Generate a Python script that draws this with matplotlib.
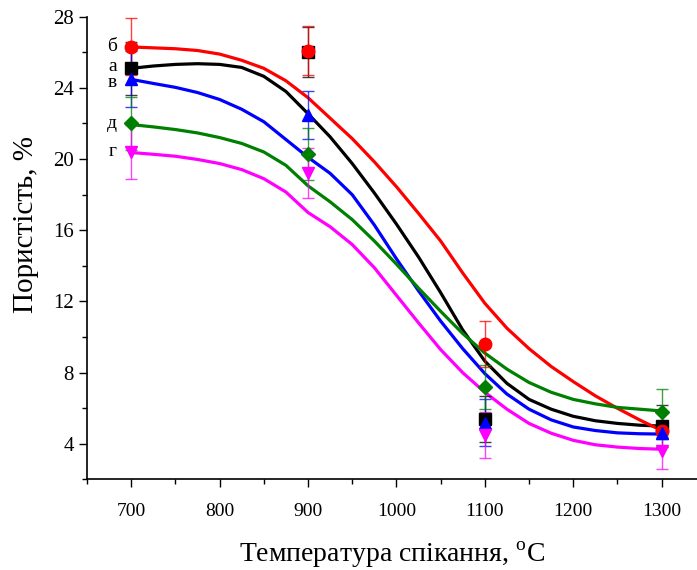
import matplotlib
matplotlib.use('Agg')
import matplotlib.pyplot as plt
from matplotlib.ticker import MultipleLocator

plt.rcParams['font.family'] = ['Liberation Serif', 'DejaVu Serif']
plt.rcParams['mathtext.fontset'] = 'custom'
plt.rcParams['mathtext.rm'] = 'Liberation Serif'

# measured points
temps = [700, 900, 1100, 1300]
por_a = [25.1, 26.0, 5.4, 5.0]
por_b = [26.3, 26.1, 9.6, 4.7]
por_v = [24.5, 22.5, 5.2, 4.6]
por_g = [20.4, 19.2, 4.5, 3.6]
por_d = [22.0, 20.3, 7.2, 5.8]

err_a = [1.5, 1.4, 1.3, 1.2]
err_b = [1.6, 1.4, 1.3, 0.3]
err_v = [1.6, 1.35, 1.3, 0.3]
err_g = [1.5, 1.4, 1.3, 1.0]
err_d = [1.5, 1.45, 1.25, 1.3]

# fitted curves, every 25 degrees
curve_t = [700, 725, 750, 775, 800, 825, 850, 875, 900, 925, 950, 975, 1000,
           1025, 1050, 1075, 1100, 1125, 1150, 1175, 1200, 1225, 1250, 1275, 1300]
fit_a = [25.1, 25.23, 25.32, 25.36, 25.32, 25.15, 24.65, 23.8, 22.55, 21.25, 19.75, 18.1, 16.35,
         14.5, 12.5, 10.4, 8.65, 7.4, 6.5, 5.95, 5.55, 5.3, 5.15, 5.05, 5.0]
fit_b = [26.3, 26.25, 26.2, 26.1, 25.9, 25.55, 25.1, 24.4, 23.45, 22.3, 21.15, 19.85, 18.45,
         16.95, 15.4, 13.6, 11.9, 10.5, 9.35, 8.35, 7.5, 6.7, 6.0, 5.35, 4.75]
fit_v = [24.48, 24.25, 24.03, 23.74, 23.35, 22.8, 22.1, 21.1, 20.1, 19.2, 18.0, 16.3, 14.4,
         12.6, 10.9, 9.35, 7.95, 6.8, 5.95, 5.35, 4.95, 4.75, 4.62, 4.57, 4.55]
fit_g = [20.37, 20.27, 20.16, 19.98, 19.75, 19.41, 18.9, 18.15, 17.0, 16.2, 15.2, 13.9, 12.35,
         10.8, 9.3, 8.0, 6.9, 5.95, 5.15, 4.6, 4.2, 3.95, 3.82, 3.74, 3.7]
fit_d = [21.94, 21.81, 21.66, 21.47, 21.21, 20.88, 20.4, 19.65, 18.5, 17.6, 16.6, 15.4, 14.1,
         12.75, 11.45, 10.2, 9.1, 8.2, 7.45, 6.9, 6.5, 6.25, 6.05, 5.95, 5.85]

# letter labels next to the 700 points
names = ['а', 'б', 'в', 'д', 'г']
name_y = [25.2, 26.3, 24.3, 22.0, 20.4]

series = [
    (por_a, err_a, fit_a, 'black', 's', 8),
    (por_b, err_b, fit_b, '#ff0000', 'o', 9),
    (por_v, err_v, fit_v, '#0000ff', '^', 9),
    (por_d, err_d, fit_d, '#008000', 'D', 7),
    (por_g, err_g, fit_g, '#ff00ff', 'v', 9),
]

fig = plt.figure(figsize=(6.97, 5.70), dpi=100)
ax = fig.add_axes([0.1248, 0.1588, 0.8752, 0.8119])

for (y, e, fit, col, mk, ms), name, ny in zip(series, names, name_y):
    ax.plot(curve_t, fit, color=col, lw=2.3, zorder=2)
    ax.errorbar(temps, y, yerr=e, fmt='none', ecolor=col, elinewidth=1.0,
                capsize=4, capthick=1.0, alpha=0.75, zorder=3)
    ax.plot(temps, y, linestyle='none', marker=mk, color=col, ms=ms, zorder=4)
    ax.text(temps[0] - 16, ny, name, ha='right', va='center', fontsize=14)

ax.set_xlim(650, 1340)
ax.set_ylim(2, 28)
ax.xaxis.set_major_locator(MultipleLocator(100))
ax.xaxis.set_minor_locator(MultipleLocator(50))
ax.yaxis.set_minor_locator(MultipleLocator(2))
ax.set_yticks([4, 8, 12, 16, 20, 24, 28])
ax.tick_params(which='major', direction='out', length=6, width=1)
ax.tick_params(which='minor', direction='out', length=3.5, width=1)
ax.tick_params(axis='x', labelsize=14, pad=11)
ax.tick_params(axis='y', labelsize=15)
ax.spines['top'].set_visible(False)
ax.spines['right'].set_visible(False)
ax.spines['left'].set_linewidth(1.2)
ax.spines['bottom'].set_linewidth(1.2)

ax.set_xlabel('Температура спікання, $^{\\rm o}$C', fontsize=20, labelpad=14)
ax.set_ylabel('Пористість, %', fontsize=21)
ax.yaxis.set_label_coords(-0.078, 0.55)

fig.savefig('out.png', dpi=100)
